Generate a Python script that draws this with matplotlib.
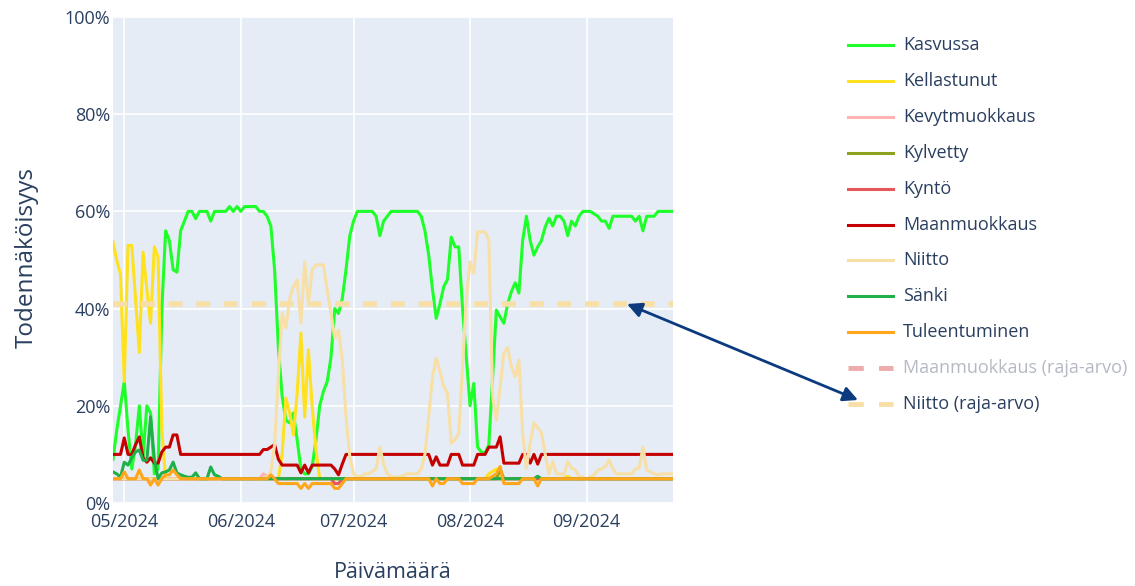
import pandas as pd
import matplotlib
matplotlib.use('Agg')
import matplotlib.pyplot as plt
import matplotlib.dates as mdates
from matplotlib.lines import Line2D
from matplotlib.ticker import FuncFormatter

plt.rcParams['font.family'] = ['Open Sans', 'DejaVu Sans']
plt.rcParams['lines.scale_dashes'] = False

# Daily values, 28.4.2024 - 24.9.2024 (probability in %)
dates = pd.date_range('2024-04-28', '2024-09-24', freq='D')

kasvussa = [9, 15, 20, 25, 15, 7, 12, 20, 9.5, 20,
            18.5, 6, 7, 40, 56, 54, 48, 47.5, 56, 58,
            60, 60, 58.5, 60, 60, 60, 58, 60, 60, 60,
            60, 61, 60, 61, 60, 61, 61, 61, 61, 60,
            60, 59, 57, 48, 32, 22, 17, 16.5, 18.5, 13,
            7, 6, 6, 7.5, 13, 20, 23, 25, 30, 40,
            39, 42, 48, 55, 58, 60, 60, 60, 60, 60,
            59, 55, 58, 59, 60, 60, 60, 60, 60, 60,
            60, 60, 59, 56, 51, 44, 38, 41, 44.5, 46,
            54.7, 52.7, 52.7, 40, 30, 20, 24.6, 11.5, 10.5, 10.3,
            12, 26, 39.7, 38.3, 37, 41, 43.5, 45.3, 43.2, 54,
            59, 54, 51, 52.7, 54, 56.8, 58.6, 57, 59, 59,
            58, 55, 58, 57, 59, 60, 60, 60, 59.5, 59,
            58, 58, 56.5, 59, 59, 59, 59, 59, 59, 58,
            59, 56, 59, 59, 59, 60, 60, 60, 60, 60]

kellastunut = ([53.7, 50, 47, 25, 53, 53, 42, 31, 51.6, 44,
                37, 52.7, 50.6, 15, 5] + [5] * 30 +
               [10, 21.6, 18.5, 14, 22.6, 35, 17.7, 31.5, 19.8, 11] +
               [5] * 45 + [6, 6.5, 7] + [5] * 18 + [5.5] + [5] * 28)

kevytmuokkaus = [5] * 40 + [6, 5.5] + [5] * 17 + [4, 4] + [5] * 89

kylvetty = [5] * 103 + [7] + [5] * 46

kynto = [5] * 59 + [4, 4] + [5] * 89

maanmuokkaus = ([10, 10, 10, 13.4, 10, 10, 12, 13.6, 9.3, 8.4,
                 9.3, 8.2, 8.2, 10.5, 11.5, 11.5, 14, 14, 10, 10] +
                [10] * 20 +
                [11, 11, 11.5, 12, 9, 7.8, 7.8, 7.8, 7.8, 7.8,
                 6.2, 7.8, 6.2, 7.8, 7.8, 7.8, 7.8, 7.8, 7.8, 7,
                 5.8, 8, 10, 10, 10, 10, 10, 10, 10, 10] +
                [10] * 14 +
                [10, 7.8, 9.5, 7.8, 7.8, 7.8,
                 10, 10, 10, 7.8, 7.8, 7.8, 7.8, 10, 10, 10,
                 11.5, 11.5, 11.5, 13.6, 8.2, 8.2, 8.2, 8.2, 8.2, 10,
                 10, 8.2, 10, 8, 10, 10, 10, 10, 10, 10] +
                [10] * 30)

niitto = ([5] * 41 +
          [5.3, 6.5, 12, 26, 39, 36, 42, 44.5, 45.9,
           37, 49.6, 41, 48, 49, 49, 49, 43.8, 39, 34,
           35.6, 29.4, 17.7, 9.5, 6, 5.3, 5.5, 6, 6, 6.5,
           7, 11.5, 8, 6, 5.5, 5.3, 5.3, 5.5, 6, 6,
           6, 6, 7, 10, 17.7, 26, 29.8, 27, 24, 22.6,
           12.3, 13, 14.4, 28, 41.8, 49.6, 47.3, 55.8, 55.8, 55.8,
           54, 22, 17, 24, 30.8, 32, 28, 26, 29.4, 14.4,
           7.2, 12.3, 16.5, 15.5, 14.4, 10, 6, 8.5, 6, 6,
           5.8, 8.5, 7.2, 6.8, 5.5, 5.3, 5, 5.3, 5.8, 6.8,
           7, 7.5, 8.8, 7, 6, 6, 6, 6, 6, 7,
           7.2, 11.5, 6.8, 6.4, 6, 5.8, 6, 6, 6, 6])

sanki = ([6.4, 6, 5.3, 8.4, 7.8, 9.3, 10.5, 10.9, 8.8, 8.8,
          17.7, 9, 5, 6.2, 6.4, 6.8, 8.4, 6.2, 5.8, 5.5,
          5.3, 5.3, 6.2, 5, 5, 5, 7.4, 5.8, 5.5, 5] +
         [5] * 83 + [5.5] + [5] * 36)

tuleentuminen = ([5, 5, 5, 6.4, 5, 5, 5, 6.8, 5, 5,
                  3.7, 5, 3.7, 5, 5.8, 5.8, 6.8, 5.8, 5, 5] +
                 [5] * 22 +
                 [5.8, 5, 4, 4, 4, 4, 4, 4,
                  3, 4, 3, 4, 4, 4, 4, 4, 4, 3,
                  3, 4, 5, 5, 5, 5, 5, 5, 5, 5] +
                 [5] * 15 +
                 [3.5, 5, 4, 4, 5,
                  5, 5, 5, 4, 4, 4, 4, 5, 5, 5,
                  5, 5.5, 6, 7.5, 4, 4, 4, 4, 4, 5,
                  5, 5, 5, 3.5, 5, 5, 5, 5, 5, 5] +
                 [5] * 30)

niitto_raja = 41

series = [
    ('Kasvussa', kasvussa, '#1EFF2A'),
    ('Kellastunut', kellastunut, '#FFE11F'),
    ('Kevytmuokkaus', kevytmuokkaus, '#FFB3B3'),
    ('Kylvetty', kylvetty, '#8BA320'),
    ('Kyntö', kynto, '#E5575A'),
    ('Maanmuokkaus', maanmuokkaus, '#C40000'),
    ('Niitto', niitto, '#F7DFA6'),
    ('Sänki', sanki, '#1FB04A'),
    ('Tuleentuminen', tuleentuminen, '#FFA61A'),
]

text_color = '#2a3f5f'
W, H = 1135, 586

fig = plt.figure(figsize=(W / 100, H / 100), dpi=100)
ax = fig.add_axes([113 / W, 1 - 503 / H, 560 / W, 486 / H])
ax.set_facecolor('#E5ECF6')

for label, vals, color in series:
    ax.plot(dates, vals, color=color, lw=2.2, solid_joinstyle='round')

# threshold line
ax.plot(dates, [niitto_raja] * len(dates), color='#F7DFA6', lw=4,
        dashes=(10, 10))

ax.set_xlim(dates[0], dates[-1])
ax.set_ylim(0, 100)
ax.set_yticks([0, 20, 40, 60, 80, 100])
ax.yaxis.set_major_formatter(FuncFormatter(lambda v, p: f'{int(v)}%'))
ax.xaxis.set_major_locator(mdates.MonthLocator())
ax.xaxis.set_major_formatter(mdates.DateFormatter('%m/%Y'))
ax.grid(True, color='white', lw=1.2)
ax.set_axisbelow(True)
for s in ax.spines.values():
    s.set_visible(False)
ax.tick_params(length=0, labelsize=13, labelcolor=text_color)
ax.tick_params(axis='y', pad=2)
ax.tick_params(axis='x', pad=7)

fig.text(393 / W, 1 - 573 / H, 'Päivämäärä', ha='center', va='center',
         fontsize=15.5, color=text_color)
fig.text(27 / W, 1 - 258 / H, 'Todennäköisyys', ha='center', va='center',
         rotation=90, fontsize=17.5, color=text_color)

# legend
legend_rows = [(lbl, col, 'solid', False) for lbl, _, col in series]
legend_rows.append(('Maanmuokkaus (raja-arvo)', '#E06666', 'dash', True))
legend_rows.append(('Niitto (raja-arvo)', '#F7DFA6', 'dash', False))
for i, (lbl, col, style, hidden) in enumerate(legend_rows):
    y = 1 - (45 + 35.9 * i) / H
    alpha = 0.55 if hidden else 1
    if style == 'solid':
        fig.add_artist(Line2D([848 / W, 893 / W], [y, y], color=col, lw=2.2,
                              alpha=alpha, transform=fig.transFigure))
    else:
        fig.add_artist(Line2D([848 / W, 893 / W], [y, y], color=col, lw=3.5,
                              alpha=alpha, dashes=(11, 11),
                              transform=fig.transFigure))
    fig.text(903 / W, y, lbl, ha='left', va='center', fontsize=13,
             color='#B4B9C3' if hidden else text_color)

# arrow linking threshold line and its legend entry
ax.annotate('', xy=(627, H - 304), xytext=(858, H - 400),
            xycoords='figure pixels', textcoords='figure pixels',
            arrowprops=dict(arrowstyle='<|-|>', color='#0B3A7E', lw=2,
                            mutation_scale=22, shrinkA=0, shrinkB=0))

fig.savefig('out.png', dpi=100, facecolor='white')
